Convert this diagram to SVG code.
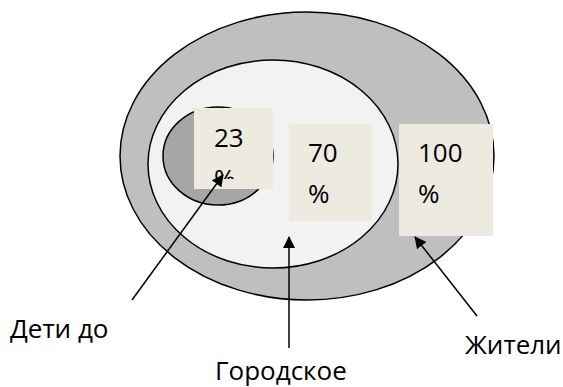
<svg xmlns="http://www.w3.org/2000/svg" width="563" height="387" viewBox="0 0 563 387">
<defs>
<style>
.t{font-family:"Open Sans","Noto Sans","Liberation Sans",sans-serif;font-size:26px;fill:#000}
.e{stroke:#000;stroke-width:1.5}
.box{fill:#EDEBE0}
.c{stroke:#000;stroke-width:1.5;fill:none}
</style>
<marker id="ah" markerWidth="12" markerHeight="12" refX="11" refY="6" orient="auto" markerUnits="userSpaceOnUse" viewBox="0 0 12 12">
<path d="M0,0 L12,6 L0,12 z" fill="#000"/>
</marker>
<clipPath id="clip23"><rect x="194" y="108" width="79" height="71"/></clipPath>
</defs>
<rect width="563" height="387" fill="#fff"/>
<g id="outer"><ellipse class="e" cx="307" cy="156" rx="187" ry="144" fill="#BFBFBF"/></g>
<g id="middle"><ellipse class="e" cx="273" cy="164" rx="125" ry="104" fill="#F2F2F2"/></g>
<g id="inner"><ellipse class="e" cx="218" cy="156" rx="55" ry="49" fill="#A6A6A6"/></g>
<g id="box23"><rect class="box" x="194" y="108" width="79" height="81"/>
<g clip-path="url(#clip23)"><text class="t" x="214" y="147">23</text><text class="t" x="214" y="188">%</text></g></g>
<g id="box70"><rect class="box" x="289" y="124" width="83" height="97"/>
<text class="t" x="308" y="162">70</text><text class="t" x="308" y="203">%</text></g>
<g id="box100"><rect class="box" x="399" y="124" width="94" height="112"/>
<text class="t" x="418" y="162">100</text><text class="t" x="418" y="203">%</text></g>
<g id="connectors">
<line class="c" x1="132" y1="300" x2="223" y2="175" marker-end="url(#ah)"/>
<line class="c" x1="289" y1="348" x2="289" y2="237" marker-end="url(#ah)"/>
<line class="c" x1="477" y1="316" x2="415" y2="237" marker-end="url(#ah)"/>
</g>
<g id="labels">
<text class="t" x="10" y="338">Дети до</text>
<text class="t" x="215" y="380">Городское</text>
<text class="t" x="465" y="354">Жители</text>
</g>
</svg>
